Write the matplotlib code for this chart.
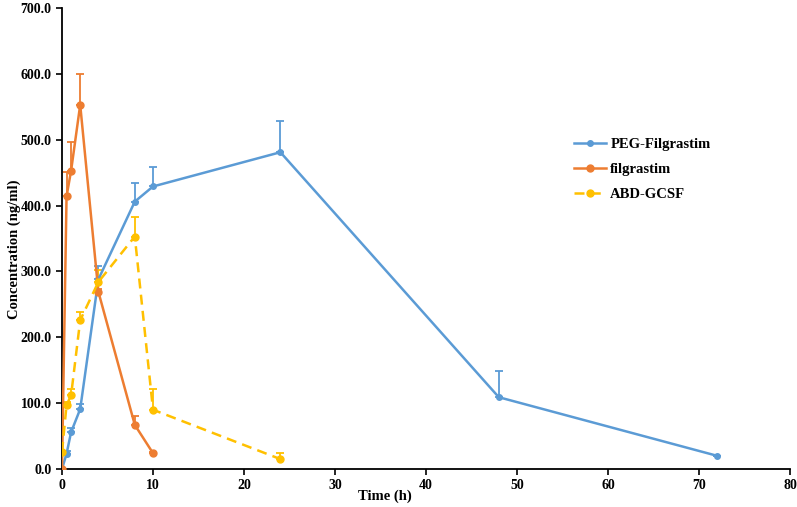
import matplotlib
matplotlib.use("Agg")
import matplotlib.pyplot as plt
import numpy as np

plt.rcParams['font.family'] = ['Liberation Serif', 'DejaVu Serif']
plt.rcParams['font.weight'] = 'bold'

peg_t = [0, 0.5, 1, 2, 4, 8, 10, 24, 48, 72]
peg_v = [0, 23, 56, 91, 288, 406, 429, 481, 109, 20]
peg_e = [0, 4, 7, 8, 20, 28, 30, 47, 40, 0]

fil_t = [0, 0.5, 1, 2, 4, 8, 10]
fil_v = [0, 414, 453, 553, 269, 67, 24]
fil_e = [0, 37, 43, 47, 4, 13, 2]

abd_t = [0, 0.5, 1, 2, 4, 8, 10, 24]
abd_v = [26, 97, 112, 226, 284, 353, 90, 15]
abd_e = [0, 4, 10, 12, 18, 29, 32, 10]

x_ticks = [0, 10, 20, 30, 40, 50, 60, 70, 80]
y_ticks = [0, 100, 200, 300, 400, 500, 600, 700]

fig = plt.figure(figsize=(7.97, 5.07), dpi=100)
ax = fig.add_axes([62/797, 1 - 469/507, (790-62)/797, (469-8)/507])

series = [
    ("PEG-Filgrastim", peg_t, peg_v, peg_e, "#5B9BD5", "-", 4),
    ("filgrastim", fil_t, fil_v, fil_e, "#ED7D31", "-", 5),
    ("ABD-GCSF", abd_t, abd_v, abd_e, "#FFC000", (0, (4, 2.5)), 5),
]
for name, t, v, e, c, ls, ms in series:
    ax.errorbar(t, v, yerr=[np.zeros(len(e)), e], fmt='none', ecolor=c,
                elinewidth=1.3, capsize=3, capthick=1.3, zorder=2)
    ax.plot(t, v, color=c, linestyle=ls, linewidth=1.8, marker='o',
            markersize=ms, label=name, zorder=3)

ax.set_xlim(0, 80)
ax.set_ylim(0, 700)
ax.set_xticks(x_ticks)
ax.set_yticks(y_ticks)
ax.set_yticklabels([f"{y:.1f}" for y in y_ticks])
ax.tick_params(direction='out', length=4, width=1.2, labelsize=10)
for lab in ax.get_xticklabels() + ax.get_yticklabels():
    lab.set_fontweight('bold')
for s in ['top', 'right']:
    ax.spines[s].set_visible(False)
for s in ['left', 'bottom']:
    ax.spines[s].set_linewidth(1.3)

ax.set_xlabel("Time (h)", fontsize=10.5, fontweight='bold')
ax.set_ylabel("Concentration (ng/ml)", fontsize=10.5, fontweight='bold')
ax.xaxis.set_label_coords(0.444, -0.045)
ax.yaxis.set_label_coords(-0.056, 0.477)

leg = ax.legend(loc='upper left', bbox_to_anchor=(0.685, 0.747), frameon=False,
                handlelength=2.2, labelspacing=0.8, handletextpad=0.3,
                prop={'weight': 'bold', 'size': 10.5})

fig.savefig("out.png", dpi=100)
